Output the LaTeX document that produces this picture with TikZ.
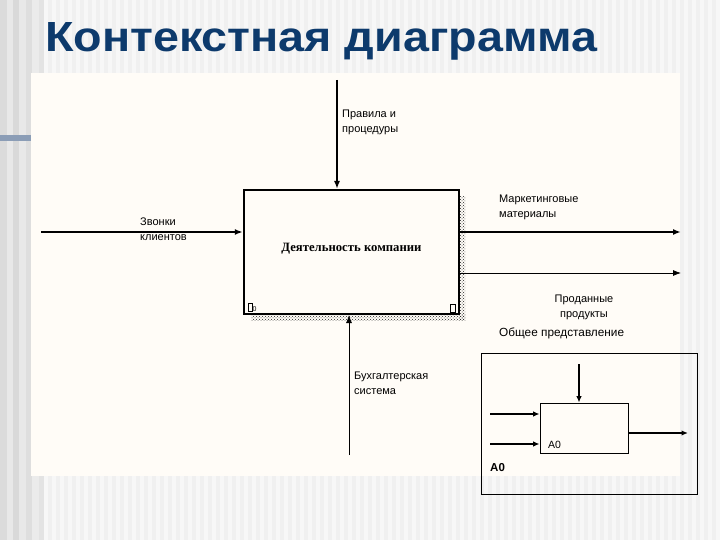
\documentclass[tikz,border=0pt]{standalone}
\usepackage{fontspec}
\setmainfont{Liberation Sans}
\newfontfamily\serifb{Liberation Serif}
\usetikzlibrary{arrows.meta,patterns}
\definecolor{titleblue}{HTML}{0D3A6C}
\definecolor{panel}{HTML}{FFFCF7}
\definecolor{barblue}{HTML}{8B9DB6}
\tikzset{
  lbl/.style={inner sep=0pt, anchor=north west, align=left, font=\fontsize{11}{14.5}\selectfont},
  arr/.style={-{Latex[length=8pt,width=6pt]}, line width=1.6pt},
  tarr/.style={-{Latex[length=8pt,width=6pt]}, line width=0.8pt},
  mainbox/.style={draw, line width=2.4pt, fill=panel, minimum width=215pt, minimum height=124pt, inner sep=0pt},
  smallbox/.style={draw, line width=0.8pt, minimum width=88pt, minimum height=50pt, inner sep=0pt},
  sarr/.style={-{Latex[length=6.5pt,width=5.5pt]}, line width=1.4pt}
}
\begin{document}
\begin{tikzpicture}[x=1pt,y=-1pt]
\useasboundingbox (0,0) rectangle (720,540);
% background
\fill[black!6] (0,0) rectangle (720,540);
\foreach \i in {0,...,89}{\fill[black!3] (8*\i+4,0) rectangle (8*\i+8,540);}
\fill[black!14] (0,0) rectangle (7,540);
\fill[black!9] (7,0) rectangle (13,540);
\fill[black!15] (13,0) rectangle (19,540);
\fill[black!9] (19,0) rectangle (26,540);
\fill[black!13] (26,0) rectangle (32,540);
\fill[black!8] (32,0) rectangle (39,540);
\fill[black!11] (39,0) rectangle (44,540);
\fill[barblue] (0,135) rectangle (31,141);
% title
\node[anchor=base west, inner sep=0pt, text=titleblue] (title) at (45,52)
  {\resizebox{552pt}{29pt}{\bfseries Контекстная диаграмма}};
% panel
\fill[panel] (31,73) rectangle (680,476);
% shadow
\fill[pattern=crosshatch dots, pattern color=black!85] (459,197) rectangle (465,320);
\fill[pattern=crosshatch dots, pattern color=black!85] (251,314) rectangle (465,320);
% main box
\node[mainbox] (box) at (351.5,252) {};
\node[inner sep=0pt, font=\serifb\bfseries\fontsize{12.7}{13}\selectfont] (boxtxt) at (351.5,249) {Деятельность компании};
\draw[line width=0.8pt] (248,303) rectangle (252,311);
\node[inner sep=0pt, anchor=base west, font=\fontsize{7}{7}\selectfont] (cost) at (252.5,311) {0};
\draw[line width=0.8pt] (450,304) rectangle (455,312);
% arrows
\coordinate (ctop) at (337,80);
\coordinate (cin) at (337,189);
\draw[arr] (ctop) -- (cin);
\coordinate (inl) at (41,232);
\draw[arr] (inl) -- (box.west |- inl);
\coordinate (o1) at (681,232);
\draw[arr] (box.east |- o1) -- (o1);
\coordinate (o2) at (681,273);
\draw[tarr] (box.east |- o2) -- (o2);
\coordinate (mbot) at (349,455);
\coordinate (mtop) at (349,315);
\draw[tarr] (mbot) -- (mtop);
% labels
\node[lbl] (l1) at (342,110) {Правила и\\процедуры};
\node[lbl] (l2) at (140,218) {Звонки\\клиентов};
\node[lbl] (l3) at (499,195) {Маркетинговые\\материалы};
\node[lbl, anchor=north, align=center] (l4) at (584,295) {Проданные\\продукты};
\node[lbl] (l5) at (354,372) {Бухгалтерская\\система};
\node[lbl, font=\fontsize{11.8}{12}\selectfont] (l6) at (499,328) {Общее представление};
% inset
\draw[line width=0.8pt] (481,353) rectangle (697,494);
\node[smallbox] (sb) at (584,428) {};
\coordinate (sc) at (579,364);
\draw[sarr] (sc) -- (sc |- sb.north);
\coordinate (si1) at (490,414);
\coordinate (si2) at (490,444);
\draw[sarr] (si1) -- (sb.west |- si1);
\draw[sarr] (si2) -- (sb.west |- si2);
\coordinate (so) at (688,433);
\draw[sarr] (sb.east |- so) -- (so);
\node[inner sep=0pt, anchor=base west, font=\fontsize{10.5}{12}\selectfont] (a0in) at (548,448) {A0};
\node[inner sep=0pt, anchor=base west, font=\bfseries\fontsize{11.5}{12}\selectfont] (a0) at (490,471) {A0};
\end{tikzpicture}
\end{document}
